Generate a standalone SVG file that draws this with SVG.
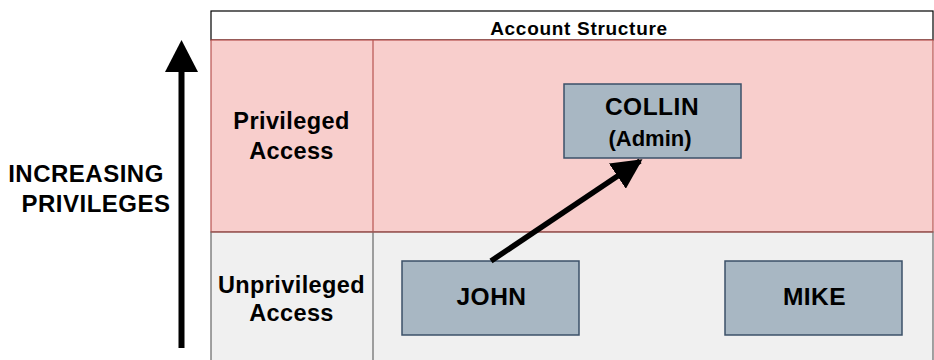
<svg xmlns="http://www.w3.org/2000/svg" width="934" height="360" viewBox="0 0 934 360">
  <style>
    text { font-family: "Liberation Sans", Arial, sans-serif; font-weight: bold; fill: #000; text-anchor: middle; }
    .acct rect { fill: #a8b7c3; stroke: #3b5068; stroke-width: 1.5; }
    .name { font-size: 24.5px; letter-spacing: 0.5px; }
    .lane { font-size: 23.5px; letter-spacing: 0.4px; }
    .axis { font-size: 24px; letter-spacing: 0.5px; }
  </style>
  <defs>
    <marker id="head" viewBox="0 0 10 10" refX="9" refY="5" markerWidth="5.5" markerHeight="5.5" markerUnits="strokeWidth" orient="auto">
      <path d="M0,0 L10,5 L0,10 Z" fill="#000"/>
    </marker>
  </defs>

  <!-- vertical privilege axis -->
  <g id="axis">
    <line x1="181.5" y1="348" x2="181.5" y2="70" stroke="#000" stroke-width="6"/>
    <path d="M181.5,40 L198,72 L165,72 Z" fill="#000"/>
    <text class="axis" x="86" y="182">INCREASING</text>
    <text class="axis" x="96" y="212">PRIVILEGES</text>
  </g>

  <!-- swimlane table -->
  <g id="table">
    <rect x="211" y="11" width="722" height="29" fill="#fff" stroke="#000" stroke-width="1.2"/>
    <text x="579" y="34.5" font-size="19" letter-spacing="0.7">Account Structure</text>
    <rect x="211" y="40" width="722" height="192" fill="#f8cecc" stroke="#b85450" stroke-width="1.2"/>
    <line x1="373" y1="40" x2="373" y2="232" stroke="#b85450" stroke-width="1.2"/>
    <rect x="211" y="232" width="722" height="130" fill="#f0f0f0" stroke="#666" stroke-width="1.2"/>
    <line x1="373" y1="232" x2="373" y2="362" stroke="#666" stroke-width="1.2"/>
    <line x1="211" y1="232" x2="933" y2="232" stroke="#b85450" stroke-width="1.2"/>
    <text class="lane" x="291.5" y="129">Privileged</text>
    <text class="lane" x="291.5" y="158.5">Access</text>
    <text class="lane" x="291.5" y="293">Unprivileged</text>
    <text class="lane" x="291.5" y="321">Access</text>
  </g>

  <g id="collin" class="acct">
    <rect x="564" y="84" width="177" height="74"/>
    <text class="name" x="652" y="115" letter-spacing="1">COLLIN</text>
    <text x="650" y="146" font-size="22">(Admin)</text>
  </g>

  <g id="john" class="acct">
    <rect x="402" y="261" width="177" height="74"/>
    <text class="name" x="491.5" y="305">JOHN</text>
  </g>

  <g id="mike" class="acct">
    <rect x="725" y="261" width="177" height="74"/>
    <text class="name" x="814.5" y="305">MIKE</text>
  </g>

  <g id="connectors">
    <line x1="491" y1="261" x2="640" y2="161" stroke="#000" stroke-width="5.5" marker-end="url(#head)"/>
  </g>
</svg>
